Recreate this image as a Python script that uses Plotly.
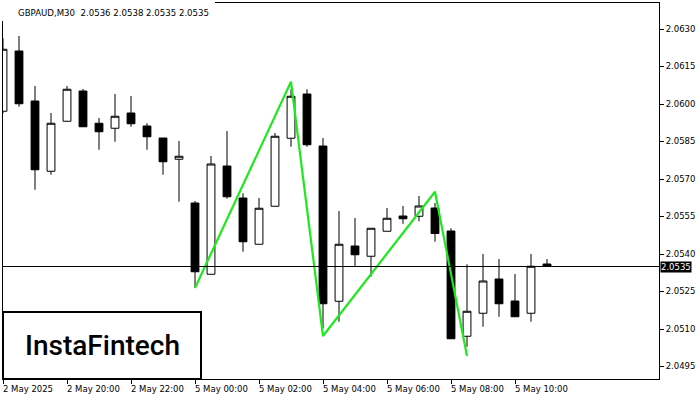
import plotly.graph_objects as go

symbol_title = "GBPAUD,M30  2.0536 2.0538 2.0535 2.0535"

# Candles: 2 May 18:00 ... 5 May 11:00 (M30)
opens = [2.05971, 2.06212, 2.06012, 2.05731, 2.05931, 2.06052, 2.05923, 2.05903,
         2.05964, 2.05912, 2.05864, 2.05779,
         2.05604, 2.05319, 2.05752, 2.05624, 2.05439, 2.05591, 2.05863, 2.06040,
         2.05832, 2.05211, 2.05432, 2.05391, 2.05491, 2.05552, 2.05551, 2.05584,
         2.05492, 2.05071, 2.05163, 2.05300, 2.05212, 2.05163, 2.05360]
highs = [2.06263, 2.06272, 2.06072, 2.05964, 2.06072, 2.06060, 2.05944, 2.06040,
         2.06032, 2.05923, 2.05864, 2.05852,
         2.05612, 2.05792, 2.05892, 2.05643, 2.05624, 2.05884, 2.06059, 2.06059,
         2.05864, 2.05572, 2.05544, 2.05503, 2.05584, 2.05592, 2.05632, 2.05604,
         2.05503, 2.05359, 2.05400, 2.05380, 2.05320, 2.05400, 2.05380]
lows = [2.05963, 2.05989, 2.05657, 2.05717, 2.05929, 2.05909, 2.05817, 2.05849,
        2.05909, 2.05817, 2.05717, 2.05609,
        2.05264, 2.05319, 2.05621, 2.05409, 2.05439, 2.05591, 2.05829, 2.05829,
        2.05103, 2.05129, 2.05351, 2.05309, 2.05491, 2.05521, 2.05531, 2.05449,
        2.05061, 2.05029, 2.05109, 2.05149, 2.05149, 2.05129, 2.05350]
closes = [2.06219, 2.06001, 2.05737, 2.05923, 2.06059, 2.05909, 2.05889, 2.05951,
          2.05921, 2.05869, 2.05769, 2.05791,
          2.05329, 2.05760, 2.05629, 2.05449, 2.05583, 2.05871, 2.06031, 2.05837,
          2.05201, 2.05439, 2.05397, 2.05503, 2.05543, 2.05541, 2.05592, 2.05482,
          2.05061, 2.05171, 2.05292, 2.05201, 2.05149, 2.05351, 2.05350]

tick_idx = [0, 4, 8, 12, 16, 20, 24, 28, 32]
tick_labels = ["2 May 2025", "2 May 20:00", "2 May 22:00", "5 May 00:00", "5 May 02:00",
               "5 May 04:00", "5 May 06:00", "5 May 08:00", "5 May 10:00"]

price_ticks = [2.0495, 2.0510, 2.0525, 2.0540, 2.0555, 2.0570, 2.0585, 2.0600, 2.0615, 2.0630]
current_price = 2.0535

pattern_idx = [12, 18, 20, 27, 29]
pattern_price = [2.05264, 2.06089, 2.05072, 2.05649, 2.04992]

x_pos = list(range(len(opens)))
FONT = "DejaVu Sans"

fig = go.Figure()
fig.add_trace(go.Candlestick(
    x=x_pos, open=opens, high=highs, low=lows, close=closes,
    increasing=dict(fillcolor="white", line=dict(color="black", width=1)),
    decreasing=dict(fillcolor="black", line=dict(color="black", width=1)),
    whiskerwidth=0, showlegend=False, hoverinfo="skip",
))
fig.add_trace(go.Scatter(
    x=pattern_idx, y=pattern_price, mode="lines",
    line=dict(color="#1EE81E", width=2.2), showlegend=False, hoverinfo="skip",
))

fig.add_shape(type="line", xref="paper", x0=0, x1=1, yref="y", y0=current_price, y1=current_price,
              line=dict(color="black", width=1), layer="above")

# white title background covering frame corner
fig.add_shape(type="rect", xref="paper", yref="paper",
              x0=-0.01, x1=(215 - 3) / 656, y0=(379 - 21) / 376, y1=1.02,
              fillcolor="white", line=dict(width=0), layer="above")

fig.add_annotation(text=symbol_title, xref="paper", yref="paper", x=(16 - 3) / 656, y=(379 - 13) / 376,
                   xanchor="left", yanchor="middle", showarrow=False,
                   font=dict(family=FONT, size=8.6, color="black"))

for i, lab in zip(tick_idx, tick_labels):
    fig.add_annotation(text=lab, x=i, xref="x", y=0, yref="paper", xanchor="left", yanchor="top",
                       yshift=-3, xshift=-2, showarrow=False,
                       font=dict(family=FONT, size=8.5, color="black"))

fig.add_annotation(text=f"{current_price:.4f}", x=1, xref="paper", y=current_price, yref="y",
                   xanchor="left", yanchor="middle", xshift=1, showarrow=False,
                   bgcolor="black", borderpad=0,
                   font=dict(family=FONT, size=8.5, color="white"))

# logo box
fig.add_shape(type="rect", xref="paper", yref="paper",
              x0=0, x1=(201 - 3) / 656, y0=0.0, y1=(379 - 312) / 376,
              fillcolor="white", line=dict(color="black", width=2), layer="above")
fig.add_annotation(text="InstaFintech", xref="paper", yref="paper",
                   x=(102 - 3) / 656, y=(379 - 345) / 376, xanchor="center", yanchor="middle",
                   showarrow=False, font=dict(family="Roboto", size=28, color="black", weight=500))

fig.update_layout(
    width=700, height=400,
    margin=dict(l=3, r=41, t=3, b=21),
    paper_bgcolor="white", plot_bgcolor="white",
    xaxis=dict(range=[0, 41], rangeslider=dict(visible=False), showgrid=False, zeroline=False,
               tickmode="array", tickvals=tick_idx, ticktext=[""] * len(tick_idx),
               ticks="outside", ticklen=4, tickcolor="black", showticklabels=False,
               showline=True, linecolor="black", linewidth=1, mirror=True),
    yaxis=dict(range=[2.0490, 2.06404], side="right", showgrid=False, zeroline=False,
               tickmode="array", tickvals=price_ticks, ticktext=[f"{v:.4f}" for v in price_ticks],
               ticks="outside", ticklen=4, tickcolor="black",
               tickfont=dict(family=FONT, size=8.5, color="black"),
               showline=True, linecolor="black", linewidth=1, mirror=True),
    hovermode=False,
)

fig.write_html("out.html", config={"displayModeBar": False},
               post_script="document.body.style.margin='0';document.body.style.padding='0';")
